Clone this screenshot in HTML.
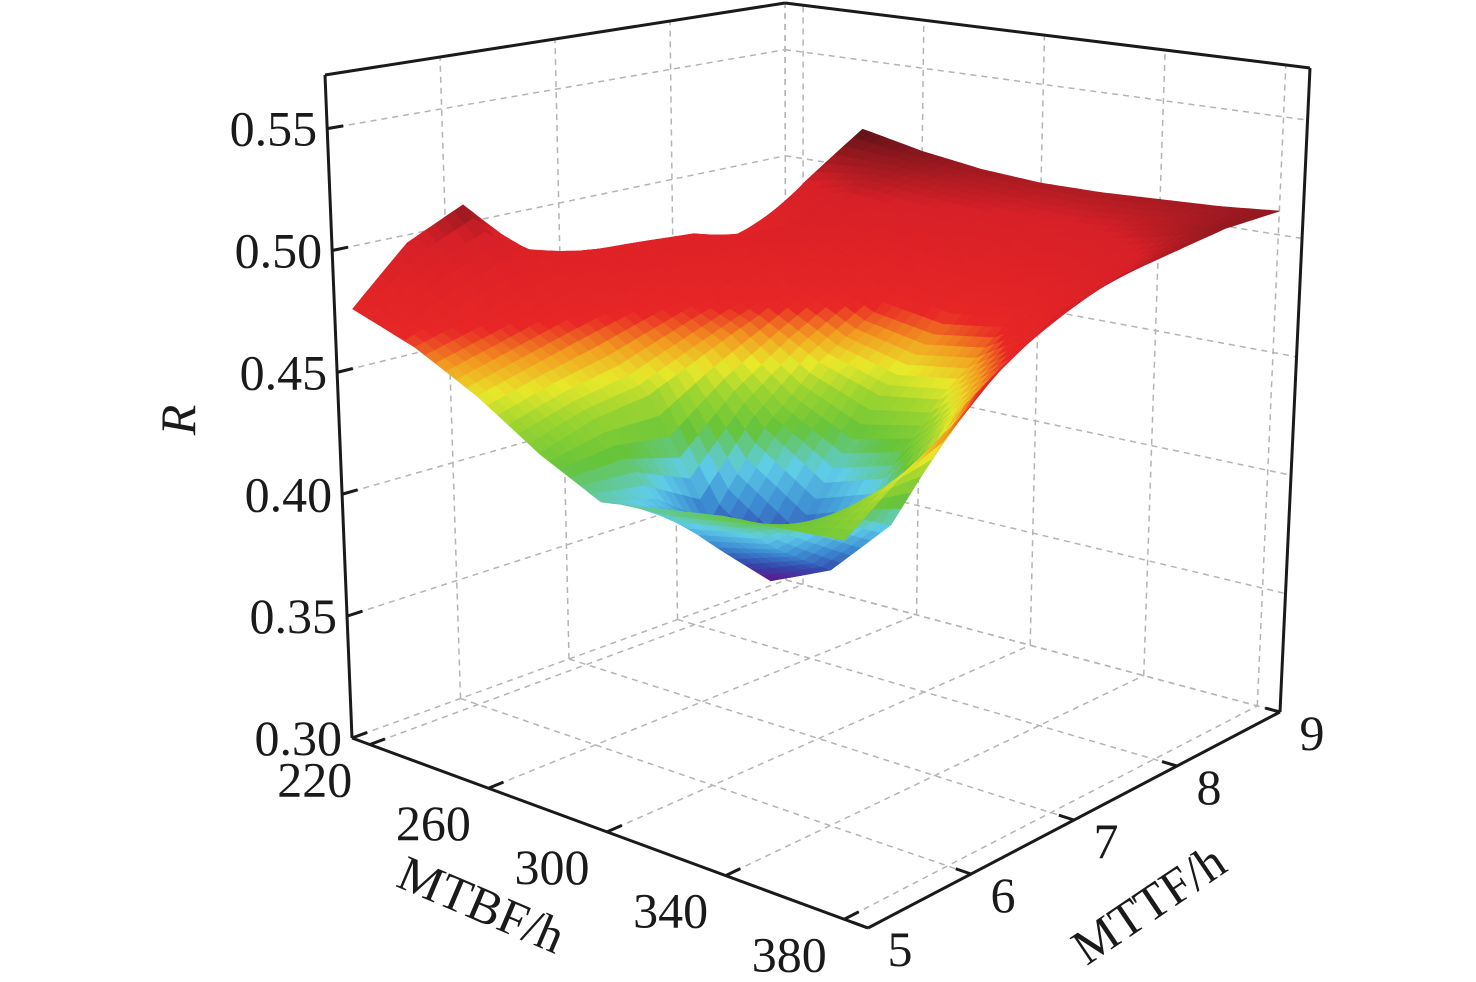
<!DOCTYPE html>
<html><head><meta charset="utf-8"><style>
html,body{margin:0;padding:0;background:#fff;}
svg{display:block;}
text{font-family:"Liberation Serif","Times New Roman",serif;}
</style></head><body>
<svg id="chart" width="1476" height="982" viewBox="0 0 1476 982" xmlns="http://www.w3.org/2000/svg">
<g id="grid"></g>
<g id="surf"></g>
<g id="box"></g>
<g id="labels" font-size="50" fill="#1a1a1a"></g>
<text x="0" y="0" font-size="50" font-style="italic" fill="#1a1a1a" text-anchor="middle" transform="translate(195,420) rotate(-90)">R</text>
<text x="0" y="0" font-size="50" fill="#1a1a1a" text-anchor="middle" transform="translate(475,920) rotate(23)">MTBF/h</text>
<text x="0" y="0" font-size="50" fill="#1a1a1a" text-anchor="middle" transform="translate(1158,918) rotate(-34)">MTTF/h</text>
</svg>
<script>
// ---- data ----
const mtbf = [220,240,260,280,300,320,340,360,380];
const mttf = [5,5.5,6,6.5,7,7.5,8,8.5,9];
// R values: rows by MTTF (5 -> 9), columns by MTBF (220 -> 380)
const R0 = [0.478,0.469,0.456,0.440,0.428,0.432,0.436,0.438,0.440];
const R1 = [0.500,0.475,0.462,0.447,0.422,0.410,0.416,0.436,0.455];
const R2 = [0.511,0.482,0.468,0.450,0.406,0.389,0.400,0.424,0.468];
const R3 = [0.487,0.486,0.474,0.460,0.436,0.420,0.428,0.455,0.485];
const R4 = [0.480,0.490,0.480,0.470,0.456,0.448,0.452,0.470,0.498];
const R5 = [0.463,0.488,0.490,0.482,0.470,0.466,0.470,0.484,0.504];
const R6 = [0.470,0.480,0.495,0.492,0.488,0.485,0.488,0.495,0.507];
const R7 = [0.466,0.500,0.505,0.502,0.500,0.498,0.500,0.505,0.510];
const R8 = [0.461,0.518,0.512,0.508,0.506,0.506,0.507,0.508,0.510];
const Rgrid = [R0,R1,R2,R3,R4,R5,R6,R7,R8];
const zTicks = [0.30,0.35,0.40,0.45,0.50,0.55];
const xTicks = [220,260,300,340,380];
const yTicks = [5,6,7,8,9];

// ---- axes ----
const XMIN=214, XMAX=388, YMIN=5, YMAX=9, ZMIN=0.30, ZMAX=0.572;
const F00=[352,738],F10=[868,928],F11=[1280,712],F01=[786,580];
const T00=[325,75],T10=[870,188],T11=[1310,68],T01=[785,3];
function bil(A,B,C,D,u,v){
  return [A[0]*(1-u)*(1-v)+B[0]*u*(1-v)+C[0]*u*v+D[0]*(1-u)*v,
          A[1]*(1-u)*(1-v)+B[1]*u*(1-v)+C[1]*u*v+D[1]*(1-u)*v];
}
function P(u,v,w){const f=bil(F00,F10,F11,F01,u,v),t=bil(T00,T10,T11,T01,u,v);return [f[0]+w*(t[0]-f[0]),f[1]+w*(t[1]-f[1])];}
const U=x=>(x-XMIN)/(XMAX-XMIN), V=y=>(y-YMIN)/(YMAX-YMIN), W=z=>(z-ZMIN)/(ZMAX-ZMIN);
const NS='http://www.w3.org/2000/svg';
function line(g,a,b,stroke,sw,dash,name){
  const l=document.createElementNS(NS,'line');
  l.setAttribute('x1',a[0]);l.setAttribute('y1',a[1]);l.setAttribute('x2',b[0]);l.setAttribute('y2',b[1]);
  l.setAttribute('stroke',stroke);l.setAttribute('stroke-width',sw);
  if(dash)l.setAttribute('stroke-dasharray',dash);
  
  
  g.appendChild(l);return l;
}
const gg=document.getElementById('grid');
const GC='#b4b4b4',GD='6,5';
zTicks.forEach(z=>{const w=W(z);
  line(gg,P(0,0,w),P(0,1,w),GC,1.5,GD,'left-wall-gridline');
  line(gg,P(0,1,w),P(1,1,w),GC,1.5,GD,'right-wall-gridline');});
xTicks.forEach(x=>{const u=U(x);
  line(gg,P(u,0,0),P(u,1,0),GC,1.5,GD,'floor-gridline');
  line(gg,P(u,1,0),P(u,1,1),GC,1.5,GD,'right-wall-gridline');});
yTicks.forEach(y=>{const v=V(y);
  line(gg,P(0,v,0),P(1,v,0),GC,1.5,GD,'floor-gridline');
  line(gg,P(0,v,0),P(0,v,1),GC,1.5,GD,'left-wall-gridline');});
line(gg,P(0,1,0),P(0,1,1),GC,1.5,GD,'back-edge');

const cStops=[[0.389,[100,20,140]],[0.400,[52,70,170]],[0.412,[60,140,210]],[0.424,[95,205,232]],[0.436,[102,196,58]],[0.448,[158,213,48]],[0.456,[232,232,42]],[0.464,[242,154,32]],[0.472,[232,38,38]],[0.500,[215,32,40]],[0.518,[90,18,24]]];
function cmap(z){
  if(z<=cStops[0][0])return cStops[0][1];
  for(let k=1;k<cStops.length;k++){if(z<=cStops[k][0]){const a=cStops[k-1],b=cStops[k],t=(z-a[0])/(b[0]-a[0]);
    return a[1].map((c,i)=>Math.round(c+t*(b[1][i]-c)));}}
  return cStops[cStops.length-1][1];
}
const sg=document.getElementById('surf');
const polys=[];const S=6;
for(let j=0;j<mttf.length-1;j++)for(let i=0;i<mtbf.length-1;i++){
  const z00=Rgrid[j][i],z10=Rgrid[j][i+1],z11=Rgrid[j+1][i+1],z01=Rgrid[j+1][i];
  for(let a=0;a<S;a++)for(let b=0;b<S;b++){
    const pts=[[a/S,b/S],[(a+1)/S,b/S],[(a+1)/S,(b+1)/S],[a/S,(b+1)/S]];
    let zs=0,uc=0,vc=0;
    const scr=pts.map(([s,t])=>{
      const z=z00*(1-s)*(1-t)+z10*s*(1-t)+z11*s*t+z01*(1-s)*t;
      const x=mtbf[i]+s*(mtbf[i+1]-mtbf[i]),y=mttf[j]+t*(mttf[j+1]-mttf[j]);
      zs+=z;uc+=U(x);vc+=V(y);
      return P(U(x),V(y),W(z));});
    polys.push({scr,z:zs/4,d:(1-uc/4)+vc/4});
  }
}
polys.sort((p,q)=>q.d-p.d);
polys.forEach(p=>{
  const el=document.createElementNS(NS,'polygon');
  el.setAttribute('points',p.scr.map(q=>q[0].toFixed(1)+','+q[1].toFixed(1)).join(' '));
  const c='rgb('+cmap(p.z).join(',')+')';
  el.setAttribute('fill',c);el.setAttribute('stroke',c);el.setAttribute('stroke-width','0.8');
  
  
  sg.appendChild(el);
});

const bg=document.getElementById('box');
const K='#1a1a1a';
line(bg,P(0,0,0),P(0,0,1),K,3,null,'z-axis-line');
line(bg,P(0,0,1),P(0,1,1),K,3,null,'top-edge');
line(bg,P(0,1,1),P(1,1,1),K,3,null,'top-edge');
line(bg,P(1,1,1),P(1,1,0),K,3,null,'right-edge');
line(bg,P(0,0,0),P(1,0,0),K,3,null,'x-axis-line');
line(bg,P(1,0,0),P(1,1,0),K,3,null,'y-axis-line');
zTicks.forEach(z=>line(bg,P(0,0,W(z)),P(0,0.035,W(z)),K,3,null,'z-tick'));
xTicks.forEach(x=>line(bg,P(U(x),0,0),P(U(x),0.035,0),K,3,null,'x-tick'));
yTicks.forEach(y=>line(bg,P(1,V(y),0),P(0.97,V(y),0),K,3,null,'y-tick'));

const lg=document.getElementById('labels');
function txt(s,x,y,anchor,name){const t=document.createElementNS(NS,'text');
  t.setAttribute('x',x);t.setAttribute('y',y);t.setAttribute('text-anchor',anchor);t.textContent=s;
  
  
  lg.appendChild(t);}
zTicks.forEach(z=>{const p=P(0,0,W(z));txt(z.toFixed(2),p[0]-10,p[1]+17,'end','z-tick-label');});
xTicks.forEach(x=>{const p=P(U(x),0,0);txt(String(x),p[0]-55,p[1]+52,'middle','x-tick-label');});
yTicks.forEach(y=>{const p=P(1,V(y),0);txt(String(y),p[0]+32,p[1]+38,'middle','y-tick-label');});
</script>
</body></html>
